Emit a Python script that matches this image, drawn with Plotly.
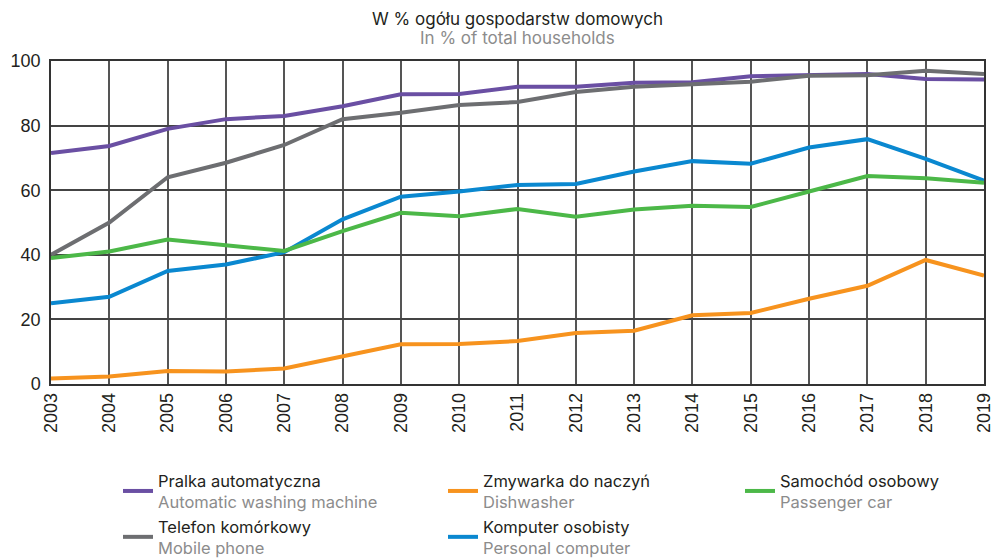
import plotly.graph_objects as go

years = list(range(2003, 2020))
washing = [71.5, 73.7, 79.0, 82.0, 83.0, 86.0, 89.7, 89.8, 92.0, 92.0, 93.3, 93.4, 95.3, 95.8, 96.0, 94.4, 94.3]
dishwasher = [1.7, 2.3, 4.0, 3.9, 4.8, 8.6, 12.3, 12.4, 13.3, 15.8, 16.5, 21.3, 22.0, 26.4, 30.4, 38.4, 33.6]
car = [39.0, 41.0, 44.7, 42.8, 41.2, 47.3, 53.0, 51.9, 54.2, 51.8, 54.0, 55.2, 54.8, 59.6, 64.4, 63.7, 62.3]
mobile = [40.0, 50.0, 64.0, 68.5, 74.0, 82.0, 84.0, 86.4, 87.3, 90.4, 92.0, 92.8, 93.6, 95.4, 95.6, 97.0, 96.0]
computer = [25.0, 27.0, 35.0, 37.0, 40.8, 51.0, 58.0, 59.6, 61.6, 61.9, 65.8, 69.0, 68.2, 73.2, 75.8, 69.7, 63.0]

names_pl = ["Pralka automatyczna", "Telefon komórkowy", "Zmywarka do naczyń", "Komputer osobisty", "Samochód osobowy"]
names_en = ["Automatic washing machine", "Mobile phone", "Dishwasher", "Personal computer", "Passenger car"]
series = [washing, mobile, dishwasher, computer, car]
colors = ["#6a4fa3", "#6d6e71", "#f7931e", "#0a88d0", "#4cb848"]
legends = ["legend", "legend", "legend2", "legend2", "legend3"]

fig = go.Figure()
for i, (pl, en, ys, c, lg) in enumerate(zip(names_pl, names_en, series, colors, legends)):
    fig.add_trace(go.Scatter(
        x=years, y=ys, mode="lines",
        name=f"{pl}<br><span style='color:#8c8c8c'>{en}</span>",
        line=dict(color=c, width=4),
        legend=lg, legendgroup=f"g{i}",
    ))

font_main = "Liberation Sans, Arial, sans-serif"
font_text = "Inter, Liberation Sans, Arial, sans-serif"
legend_common = dict(
    orientation="v", xanchor="left", yanchor="top",
    xref="container", yref="container", y=1 - 463 / 558,
    font=dict(family=font_text, size=16.5, color="#231f20"),
    bgcolor="rgba(0,0,0,0)", traceorder="grouped", tracegroupgap=0,
)

fig.update_layout(
    width=995, height=558,
    margin=dict(l=51, r=11, t=61, b=174, autoexpand=False),
    paper_bgcolor="white", plot_bgcolor="white",
    font=dict(family=font_main, size=16, color="#231f20"),
    xaxis=dict(
        range=[2003, 2019], tickmode="array", tickvals=years,
        ticktext=[str(y) for y in years], tickangle=-90,
        showgrid=True, gridcolor="#555555", gridwidth=1.5,
        showline=True, linecolor="#333333", linewidth=1.5, mirror=True,
        ticks="", zeroline=False, automargin=False,
        tickfont=dict(size=18, color="#231f20"),
    ),
    yaxis=dict(
        range=[0, 100], tickvals=[0, 20, 40, 60, 80, 100],
        showgrid=True, gridcolor="#444444", gridwidth=1.5,
        showline=True, linecolor="#333333", linewidth=1.5, mirror=True,
        ticks="", zeroline=False, automargin=False, ticklabelstandoff=5,
        tickfont=dict(size=18, color="#231f20"),
    ),
    legend=dict(x=118 / 995, **legend_common),
    legend2=dict(x=443 / 995, **legend_common),
    legend3=dict(x=740 / 995, **legend_common),
    showlegend=True,
    annotations=[
        dict(text="W % ogółu gospodarstw domowych", xref="paper", yref="paper",
             x=0.5, y=(384 - 19) / 323, xanchor="center", yanchor="middle",
             showarrow=False, font=dict(family=font_text, size=17, color="#231f20")),
        dict(text="In % of total households", xref="paper", yref="paper",
             x=0.5, y=(384 - 38) / 323, xanchor="center", yanchor="middle",
             showarrow=False, font=dict(family=font_text, size=17, color="#8c8c8c")),
    ],
)

fig.write_html("out.html", config={"displayModeBar": False},
               post_script="document.body.style.margin='0';")
